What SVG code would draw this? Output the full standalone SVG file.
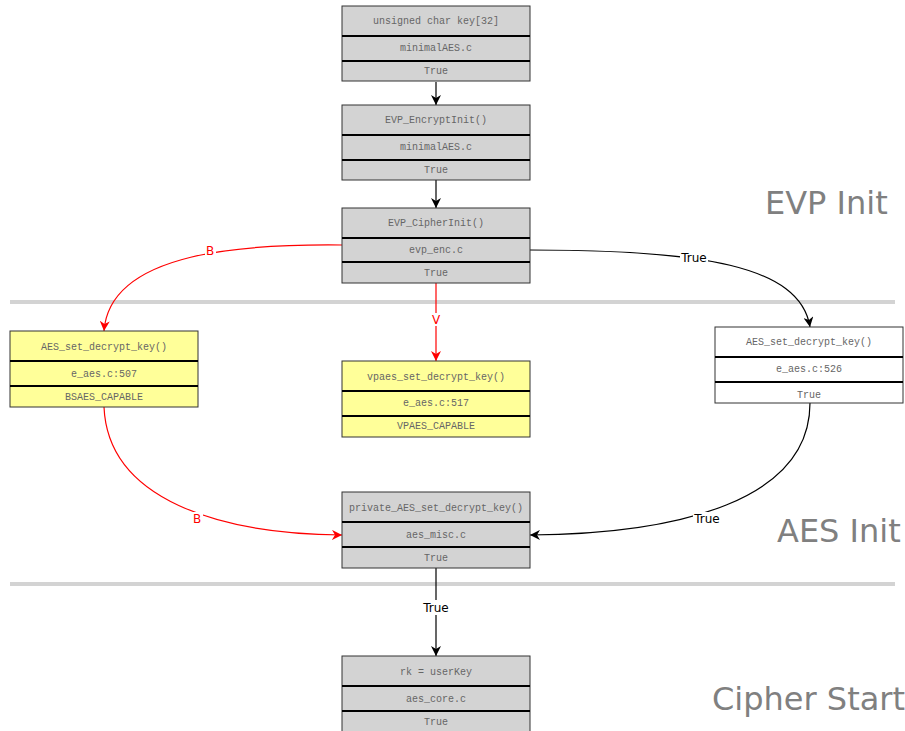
<svg xmlns="http://www.w3.org/2000/svg" width="905" height="731" viewBox="0 0 905 731">
<defs>
<style>
.box{stroke:#333;stroke-width:1}
.grey{fill:#d3d3d3}
.yel{fill:#ffff99}
.wht{fill:#ffffff}
.div{stroke:#000;stroke-width:2}
.nt{font-family:"Liberation Mono",monospace;font-size:10px;fill:#666;text-anchor:middle}
.sep{stroke:#d3d3d3;stroke-width:4}
.title{font-family:"DejaVu Sans",sans-serif;font-size:32px;fill:#808080}
.e{fill:none;stroke-width:1.2}
.blk{stroke:#000}
.red{stroke:#ff0000}
.lb{font-family:"DejaVu Sans",sans-serif;font-size:12px;text-anchor:middle}
.lbg{fill:#fff}
</style>
<marker id="ab" viewBox="0 0 10 10" refX="10" refY="5" markerWidth="10" markerHeight="10" markerUnits="userSpaceOnUse" orient="auto">
<path d="M0,0 L10,5 L0,10 L3,5 Z" fill="#000"/>
</marker>
<marker id="ar" viewBox="0 0 10 10" refX="10" refY="5" markerWidth="10" markerHeight="10" markerUnits="userSpaceOnUse" orient="auto">
<path d="M0,0 L10,5 L0,10 L3,5 Z" fill="#ff0000"/>
</marker>
</defs>
<rect width="905" height="731" fill="#fff"/>

<!-- separators -->
<line class="sep" x1="10" y1="302" x2="895" y2="302"/>
<line class="sep" x1="10" y1="584" x2="895" y2="584"/>

<!-- stage titles -->
<text class="title" x="765" y="214">EVP Init</text>
<text class="title" x="777" y="542">AES Init</text>
<text class="title" x="712" y="710">Cipher Start</text>

<!-- connectors -->
<g id="edges">
<path class="e blk" d="M436,82 L436,105" marker-end="url(#ab)"/>
<path class="e blk" d="M436,180 L436,208" marker-end="url(#ab)"/>
<path class="e red" d="M342,245 C250,244 110,250 104,331" marker-end="url(#ar)"/>
<rect class="lbg" x="205" y="244" width="11" height="13"/>
<text class="lb" x="210" y="255" fill="#ff0000">B</text>
<path class="e red" d="M436,283 L436,361" marker-end="url(#ar)"/>
<rect class="lbg" x="430" y="313" width="12" height="13"/>
<text class="lb" x="436" y="324" fill="#ff0000">V</text>
<path class="e blk" d="M530,250 C700,250 800,265 810,327" marker-end="url(#ab)"/>
<rect class="lbg" x="680" y="251" width="28" height="13"/>
<text class="lb" x="694" y="262" fill="#000">True</text>
<path class="e red" d="M104,407 C108,500 220,534 342,535" marker-end="url(#ar)"/>
<rect class="lbg" x="192" y="512" width="11" height="13"/>
<text class="lb" x="197" y="523" fill="#ff0000">B</text>
<path class="e blk" d="M810,403 C810,500 680,534 530,535" marker-end="url(#ab)"/>
<rect class="lbg" x="693" y="512" width="28" height="13"/>
<text class="lb" x="707" y="523" fill="#000">True</text>
<path class="e blk" d="M436,568 L436,656" marker-end="url(#ab)"/>
<rect class="lbg" x="421" y="600" width="30" height="15"/>
<text class="lb" x="436" y="612" fill="#000">True</text>
</g>

<!-- nodes -->
<g id="n-key">
<rect class="box grey" x="342" y="6" width="188" height="75"/>
<line class="div" x1="342" y1="36" x2="530" y2="36"/>
<line class="div" x1="342" y1="61" x2="530" y2="61"/>
<text class="nt" x="436" y="24">unsigned char key[32]</text>
<text class="nt" x="436" y="51">minimalAES.c</text>
<text class="nt" x="436" y="74">True</text>
</g>
<g id="n-encinit">
<rect class="box grey" x="342" y="105" width="188" height="75"/>
<line class="div" x1="342" y1="135" x2="530" y2="135"/>
<line class="div" x1="342" y1="160" x2="530" y2="160"/>
<text class="nt" x="436" y="123">EVP_EncryptInit()</text>
<text class="nt" x="436" y="150">minimalAES.c</text>
<text class="nt" x="436" y="173">True</text>
</g>
<g id="n-cipherinit">
<rect class="box grey" x="342" y="208" width="188" height="75"/>
<line class="div" x1="342" y1="238" x2="530" y2="238"/>
<line class="div" x1="342" y1="262" x2="530" y2="262"/>
<text class="nt" x="436" y="226">EVP_CipherInit()</text>
<text class="nt" x="436" y="253">evp_enc.c</text>
<text class="nt" x="436" y="276">True</text>
</g>
<g id="n-bsaes">
<rect class="box yel" x="10" y="331" width="188" height="76"/>
<line class="div" x1="10" y1="361" x2="198" y2="361"/>
<line class="div" x1="10" y1="386" x2="198" y2="386"/>
<text class="nt" x="104" y="350">AES_set_decrypt_key()</text>
<text class="nt" x="104" y="377">e_aes.c:507</text>
<text class="nt" x="104" y="400">BSAES_CAPABLE</text>
</g>
<g id="n-vpaes">
<rect class="box yel" x="342" y="361" width="188" height="76"/>
<line class="div" x1="342" y1="391" x2="530" y2="391"/>
<line class="div" x1="342" y1="416" x2="530" y2="416"/>
<text class="nt" x="436" y="380">vpaes_set_decrypt_key()</text>
<text class="nt" x="436" y="406">e_aes.c:517</text>
<text class="nt" x="436" y="429">VPAES_CAPABLE</text>
</g>
<g id="n-aes">
<rect class="box wht" x="715" y="327" width="188" height="76"/>
<line class="div" x1="715" y1="357" x2="903" y2="357"/>
<line class="div" x1="715" y1="382" x2="903" y2="382"/>
<text class="nt" x="809" y="345">AES_set_decrypt_key()</text>
<text class="nt" x="809" y="372">e_aes.c:526</text>
<text class="nt" x="809" y="398">True</text>
</g>
<g id="n-private">
<rect class="box grey" x="342" y="492" width="188" height="76"/>
<line class="div" x1="342" y1="522" x2="530" y2="522"/>
<line class="div" x1="342" y1="547" x2="530" y2="547"/>
<text class="nt" x="436" y="511">private_AES_set_decrypt_key()</text>
<text class="nt" x="436" y="538">aes_misc.c</text>
<text class="nt" x="436" y="561">True</text>
</g>
<g id="n-rk">
<rect class="box grey" x="342" y="656" width="188" height="80"/>
<line class="div" x1="342" y1="686" x2="530" y2="686"/>
<line class="div" x1="342" y1="711" x2="530" y2="711"/>
<text class="nt" x="436" y="675">rk = userKey</text>
<text class="nt" x="436" y="702">aes_core.c</text>
<text class="nt" x="436" y="725">True</text>
</g>
</svg>
